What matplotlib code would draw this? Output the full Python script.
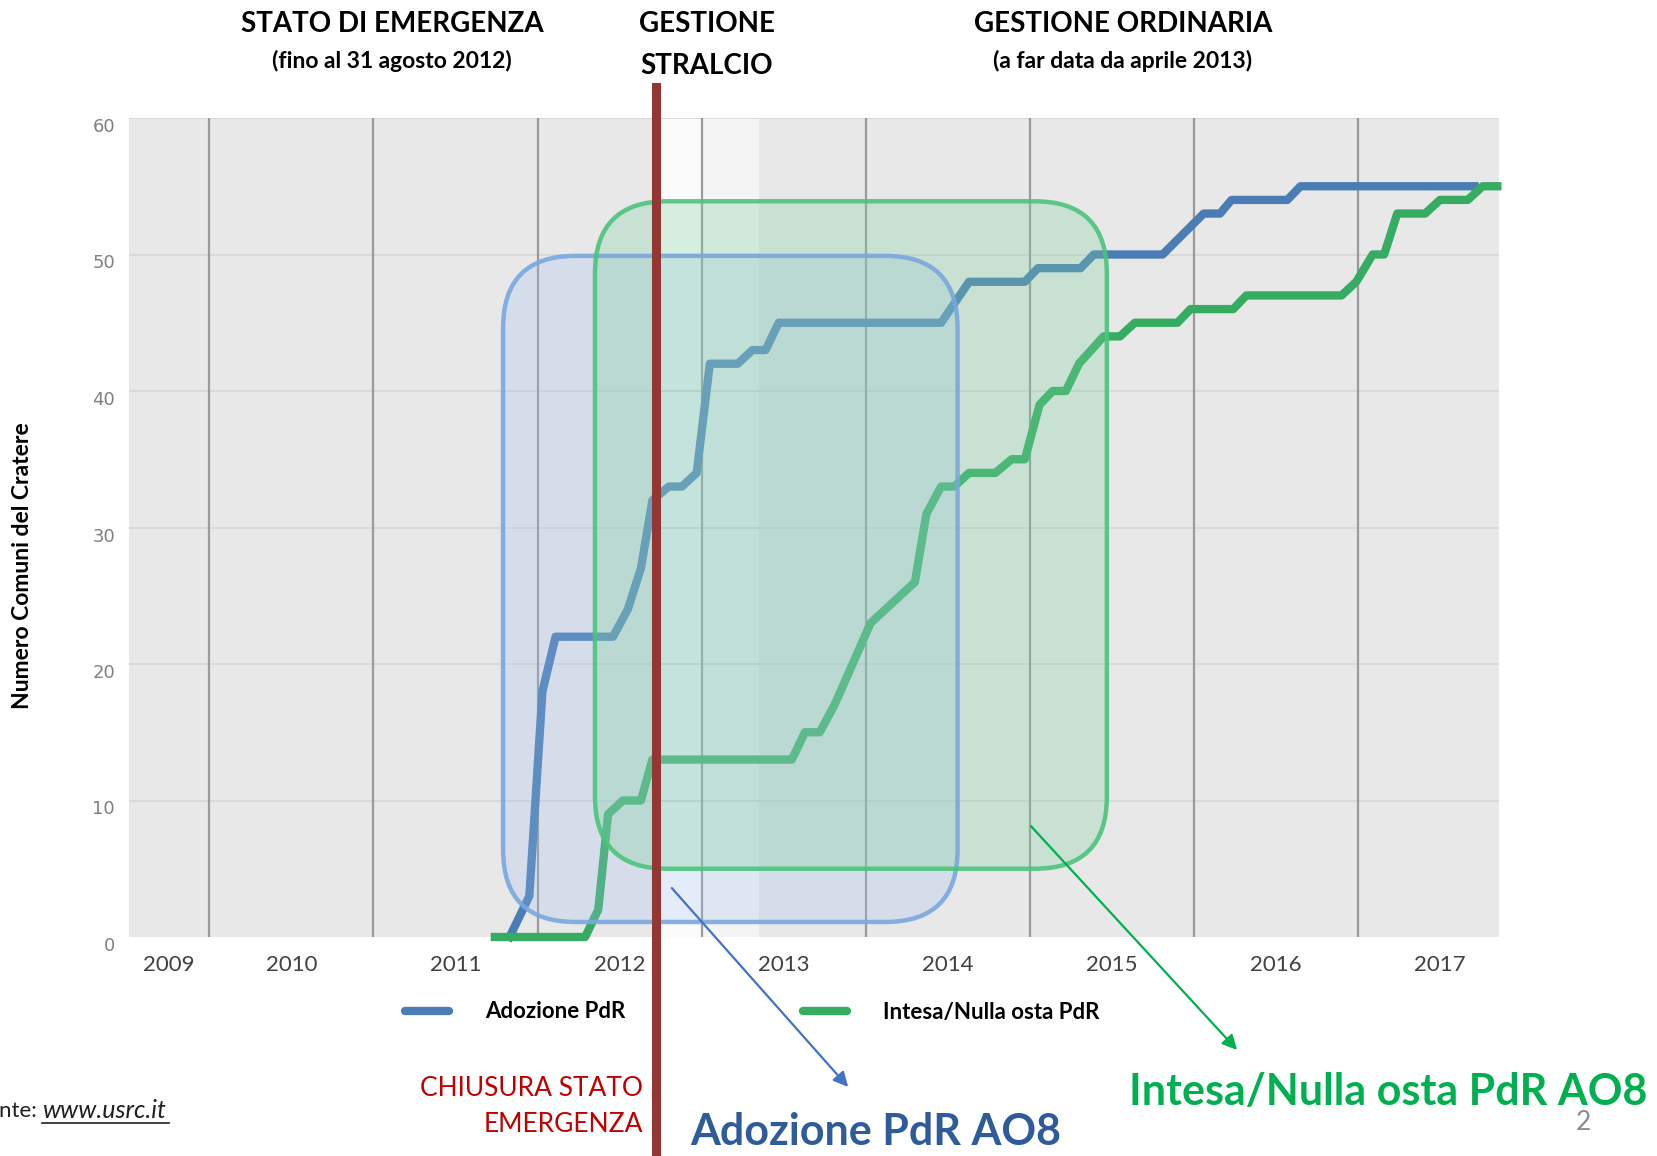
import numpy as np
import matplotlib

matplotlib.use("Agg")
import matplotlib.pyplot as plt
from matplotlib.patches import FancyBboxPatch, FancyArrowPatch

plt.rcParams["font.family"] = ["Lato", "DejaVu Sans"]

# data (decimal year, number of municipalities)
adozione_x = [2011.83, 2011.95, 2012.03, 2012.11, 2012.46, 2012.55, 2012.63, 2012.70,
              2012.80, 2012.88, 2012.97, 2013.05, 2013.22, 2013.31, 2013.39, 2013.47,
              2014.46, 2014.63, 2014.97, 2015.05, 2015.31, 2015.39, 2015.81, 2016.06,
              2016.16, 2016.23, 2016.57, 2016.65, 2017.71]
adozione_y = [0, 3, 18, 22, 22, 24, 27, 32, 33, 33, 34, 42, 42, 43, 43, 45,
              45, 48, 48, 49, 49, 50, 50, 53, 53, 54, 54, 55, 55]

intesa_x = [2011.74, 2012.29, 2012.37, 2012.43, 2012.52, 2012.63, 2012.70, 2013.55,
            2013.63, 2013.72, 2013.81, 2014.03, 2014.30, 2014.37, 2014.46, 2014.54,
            2014.63, 2014.79, 2014.89, 2014.97, 2015.06, 2015.14, 2015.22, 2015.30,
            2015.45, 2015.55, 2015.64, 2015.90, 2015.98, 2016.24, 2016.32, 2016.90,
            2016.99, 2017.09, 2017.16, 2017.24, 2017.41, 2017.50, 2017.67, 2017.76,
            2017.85]
intesa_y = [0, 0, 2, 9, 10, 10, 13, 13, 15, 15, 17, 23, 26, 31, 33, 33,
            34, 34, 35, 35, 39, 40, 40, 42, 44, 44, 45, 45, 46, 46, 47, 47,
            48, 50, 50, 53, 53, 54, 54, 55, 55]

year_labels = ["2009", "2010", "2011", "2012", "2013", "2014", "2015", "2016", "2017"]
year_label_pos = [2009.75, 2010.5, 2011.5, 2012.5, 2013.5, 2014.5, 2015.5, 2016.5, 2017.5]
year_grid = [2010, 2011, 2012, 2013, 2014, 2015, 2016, 2017]
y_ticks = [0, 10, 20, 30, 40, 50, 60]

fine_emergenza = 2012.72      # chiusura stato di emergenza (31 agosto 2012)
inizio_ordinaria = 2013.35    # gestione ordinaria da aprile 2013

# callout boxes (x0, x1, y0, y1) in data units
box_adozione = (2011.79, 2014.56, 1.1, 49.9)
box_intesa = (2012.35, 2015.47, 5.0, 53.9)

W, H = 1658, 1156
fig = plt.figure(figsize=(W / 100, H / 100), dpi=100)
ax = fig.add_axes([129 / W, 1 - 937 / H, (1499 - 129) / W, (937 - 118) / H])
ax.set_facecolor("#e8e8e8")
ax.set_xlim(2009.51, 2017.86)
ax.set_ylim(0, 60)

# stralcio period lighter band
ax.axvspan(fine_emergenza, 2013.0, color="#fbfbfb", zorder=0.5, lw=0)
ax.axvspan(2013.0, inizio_ordinaria, color="#f4f4f4", zorder=0.5, lw=0)

for y in y_ticks[1:]:
    ax.axhline(y, color="#d6d6d6", lw=1.2, zorder=1)
for x in year_grid:
    ax.axvline(x, color="#9a9a9a", lw=1.6, zorder=1)

ax.plot(adozione_x, adozione_y, color="#4a7db3", lw=6, zorder=3,
        solid_joinstyle="round", clip_on=False, label="Adozione PdR")
ax.plot(intesa_x, intesa_y, color="#35ac62", lw=6, zorder=3,
        solid_joinstyle="round", clip_on=False, label="Intesa/Nulla osta PdR")

for s in ax.spines.values():
    s.set_visible(False)

ax.set_yticks(y_ticks)
ax.set_yticklabels([str(v) for v in y_ticks], family="DejaVu Sans", fontsize=13,
                   color="#808080", va="top")
ax.set_xticks(year_label_pos)
ax.set_xticklabels(year_labels, fontsize=16, color="#404040")
ax.tick_params(length=0)
ax.tick_params(axis="y", pad=10)
ax.tick_params(axis="x", pad=13)
ax.set_ylabel("Numero Comuni del Cratere", fontsize=16.5, fontweight="bold")
ax.yaxis.set_label_coords(-0.070, 0.453)

# rounded callout boxes, drawn over the lines
fig.canvas.draw()
bb = ax.get_window_extent()
aspect = (60 / bb.height) / ((2017.86 - 2009.51) / bb.width)
r = 0.44
for (x0, x1, y0, y1), fc, ec, a in [
    (box_adozione, "#9fc0f0", "#7aa7de", 0.25),
    (box_intesa, "#7fd1a0", "#4cc37c", 0.3),
]:
    p = FancyBboxPatch((x0, y0), x1 - x0, y1 - y0,
                       boxstyle="round,pad=0,rounding_size=%g" % r,
                       mutation_aspect=aspect, facecolor=fc, alpha=a,
                       edgecolor="none", zorder=4)
    ax.add_patch(p)
    e = FancyBboxPatch((x0, y0), x1 - x0, y1 - y0,
                       boxstyle="round,pad=0,rounding_size=%g" % r,
                       mutation_aspect=aspect, facecolor="none",
                       edgecolor=ec, lw=3.2, alpha=0.9, zorder=4.5)
    ax.add_patch(e)

# closing of the emergency state
ax.axvline(fine_emergenza, ymin=-0.3, ymax=1.038, color="#943634", lw=6.5,
           clip_on=False, zorder=6)

leg = fig.legend(loc="center", bbox_to_anchor=(752 / W, 1 - 1012 / H), ncol=2,
                 frameon=False, fontsize=16, handlelength=2.0, handletextpad=1.6,
                 columnspacing=8.0)
for t in leg.get_texts():
    t.set_fontweight("bold")
for h in leg.get_lines():
    h.set_solid_capstyle("round")


def ftext(x, y, s, **kw):
    fig.text(x / W, 1 - y / H, s, **kw)


ftext(392, 24, "STATO DI EMERGENZA", ha="center", va="center", fontsize=20, fontweight="bold")
ftext(392, 61, "(fino al 31 agosto 2012)", ha="center", va="center", fontsize=16.5, fontweight="bold")
ftext(707, 24, "GESTIONE", ha="center", va="center", fontsize=20, fontweight="bold")
ftext(707, 66, "STRALCIO", ha="center", va="center", fontsize=20, fontweight="bold")
ftext(1123, 24, "GESTIONE ORDINARIA", ha="center", va="center", fontsize=20, fontweight="bold")
ftext(1123, 61, "(a far data da aprile 2013)", ha="center", va="center", fontsize=16.5, fontweight="bold")

ftext(643, 1088, "CHIUSURA STATO", ha="right", va="center", fontsize=19, color="#c00000")
ftext(643, 1125, "EMERGENZA", ha="right", va="center", fontsize=19, color="#c00000")

ftext(37, 1111, "Fonte:", ha="right", va="center", fontsize=16, color="#202020")
ftext(42, 1111, "www.usrc.it", ha="left", va="center", fontsize=18, style="italic",
      color="#202020")
fig.add_artist(plt.Line2D([42 / W, 169 / W], [1 - 1123 / H, 1 - 1123 / H],
                          color="#202020", lw=1.2))

ftext(690, 1132, "Adozione PdR AO8", ha="left", va="center", fontsize=31,
      fontweight="bold", color="#2f5b9a")
ftext(1129, 1092, "Intesa/Nulla osta PdR AO8", ha="left", va="center", fontsize=31,
      fontweight="bold", color="#00b050")
ftext(1583, 1123, "2", ha="center", va="center", fontsize=19, color="#8c8c8c")

fig.add_artist(FancyArrowPatch(
    (670 / W, 1 - 886 / H), (850 / W, 1 - 1089 / H), transform=fig.transFigure,
    arrowstyle="-|>", mutation_scale=22, color="#4472c4", lw=1.6))
fig.add_artist(FancyArrowPatch(
    (1029 / W, 1 - 824 / H), (1239 / W, 1 - 1052 / H), transform=fig.transFigure,
    arrowstyle="-|>", mutation_scale=22, color="#00b050", lw=1.6))

fig.savefig("out.png", dpi=100)
